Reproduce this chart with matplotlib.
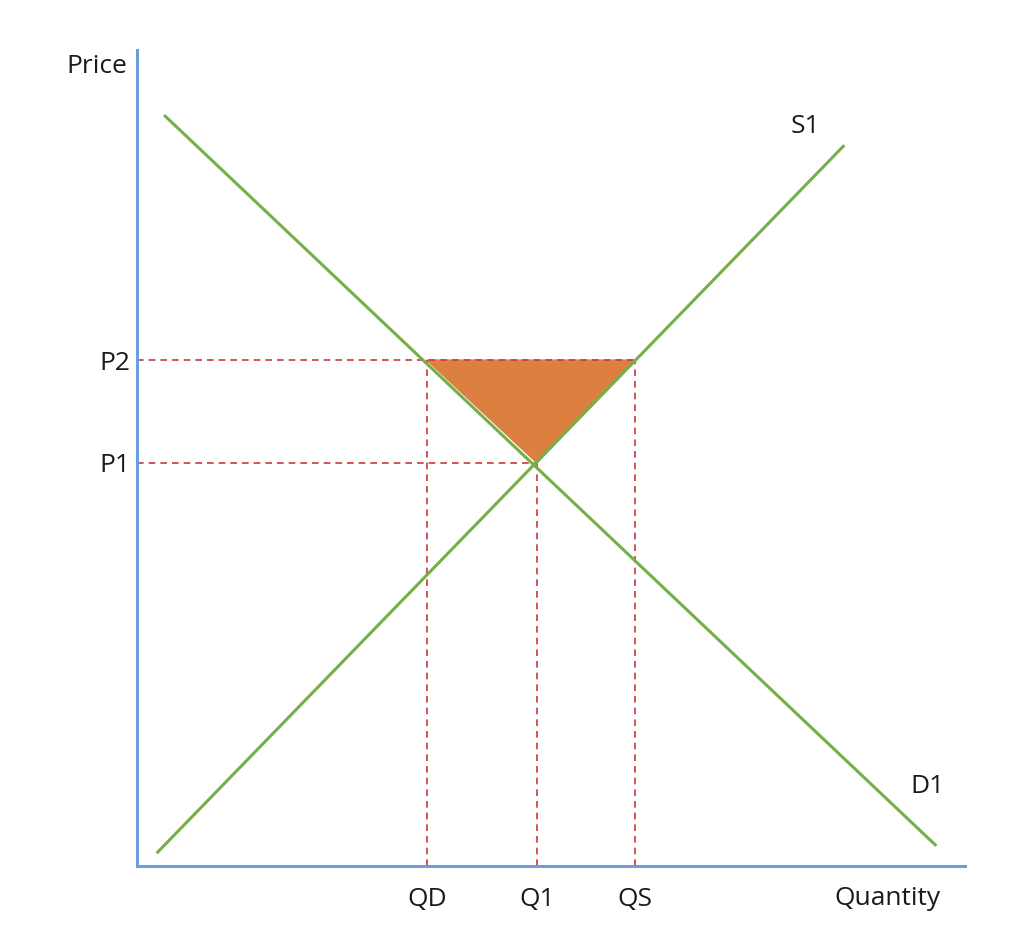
import numpy as np
import matplotlib
matplotlib.use("Agg")
from matplotlib import pyplot as plt

plt.rcParams['font.family'] = ['Open Sans', 'DejaVu Sans']

# curve end points (quantity, price) in 0..100 units
supply_q = [2.5, 85.3]
supply_p = [1.7, 88.2]
demand_q = [3.4, 96.4]
demand_p = [91.9, 2.6]

# key levels
qd, q1, qs = 35.0, 48.3, 60.1
p1, p2 = 49.4, 62.0
q_labels = ['QD', 'Q1', 'QS']
p_labels = ['P1', 'P2']

green = '#74b04a'
blue = '#6a9fdc'
red = '#cc3a3a'
orange = '#dc8042'
txt = '#1a1a1a'

fig = plt.figure(figsize=(10.26, 9.46), dpi=100)
ax = fig.add_axes([137/1026, 80/946, 828/1026, 816/946])
ax.set_xlim(0, 100)
ax.set_ylim(0, 100)

for s in ['top', 'right']:
    ax.spines[s].set_visible(False)
for s in ['left', 'bottom']:
    ax.spines[s].set_color(blue)
    ax.spines[s].set_linewidth(2.2)

# shaded triangle
ax.fill([qd, qs, q1], [p2, p2, p1], color=orange, zorder=1)

# dashed guide lines
dk = dict(color=red, lw=1.2, ls=(0, (4, 3)), zorder=2)
ax.plot([0, qs], [p2, p2], **dk)
ax.plot([0, q1], [p1, p1], **dk)
ax.plot([qd, qd], [0, p2], **dk)
ax.plot([q1, q1], [0, p1], **dk)
ax.plot([qs, qs], [0, p2], **dk)

ax.plot(supply_q, supply_p, color=green, lw=2.2, zorder=3)
ax.plot(demand_q, demand_p, color=green, lw=2.2, zorder=3)

ax.set_xticks([qd, q1, qs], q_labels)
ax.set_yticks([p1, p2], p_labels)
ax.tick_params(length=0, labelsize=19, colors=txt)
ax.tick_params(axis='x', pad=15)
ax.tick_params(axis='y', pad=5)

ax.text(-1.2, 98, 'Price', fontsize=19, ha='right', va='center', color=txt)
ax.text(90.6, -4.0, 'Quantity', fontsize=19, ha='center', va='center', color=txt)
ax.text(80.7, 90.6, 'S1', fontsize=19, ha='center', va='center', color=txt)
ax.text(95.5, 9.8, 'D1', fontsize=19, ha='center', va='center', color=txt)

fig.savefig('out.png', dpi=100, facecolor='white')
